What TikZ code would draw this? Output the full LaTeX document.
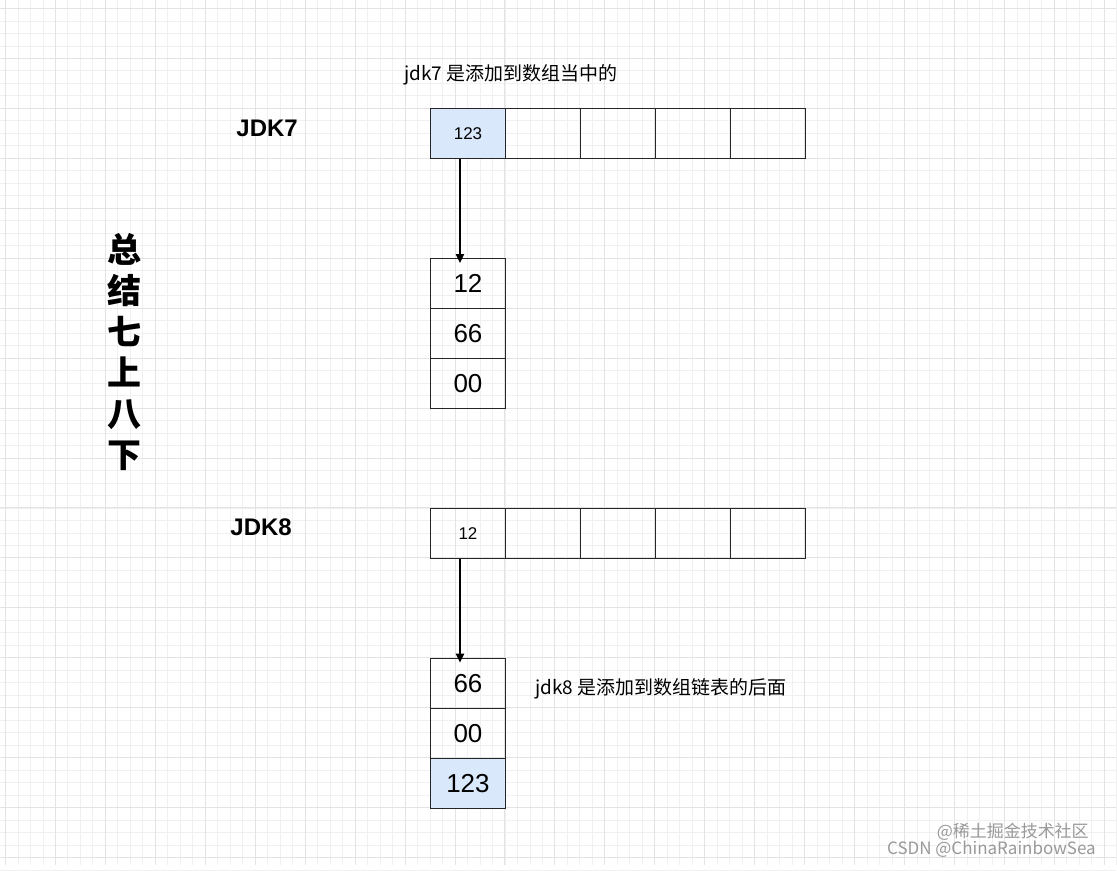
\documentclass[tikz,border=0pt]{standalone}
\usepackage{fontspec}
\setmainfont{Liberation Sans}
\newfontfamily\cjk{Noto Sans CJK SC}
\usetikzlibrary{arrows.meta}
\definecolor{hlb}{HTML}{DAE8FC}
\begin{document}
\begin{tikzpicture}[x=1pt,y=-1pt,
  cell/.style={draw=black!85,line width=1.2pt,minimum width=75pt,minimum height=50pt,inner sep=0pt,anchor=north west,font=\fontsize{17}{17}\selectfont},
  bcell/.style={cell,font=\fontsize{26}{26}\selectfont},
  hl/.style={fill=hlb},
  lbl/.style={font=\fontsize{24}{24}\selectfont\bfseries},
  note/.style={font=\cjk\fontsize{19}{19}\selectfont,anchor=west},
  arr/.style={-{Triangle[length=9pt,width=8pt]},line width=2pt}]
\fill[white] (0,0) rectangle (1117,866);
\foreach \i in {0,...,89}{\draw[black!6,line width=0.6pt] (5+12.5*\i,0)--(5+12.5*\i,866);}
\foreach \j in {0,...,69}{\draw[black!6,line width=0.6pt] (0,8+12.5*\j)--(1117,8+12.5*\j);}
\foreach \i in {0,...,22}{\draw[black!11,line width=0.7pt] (5+50*\i,0)--(5+50*\i,866);}
\foreach \j in {0,...,17}{\draw[black!11,line width=0.7pt] (0,8+50*\j)--(1117,8+50*\j);}
\useasboundingbox (0,0) rectangle (1117,866);
% JDK7
\node[note] (n7) at (401,75) {jdk7 是添加到数组当中的};
\node[lbl] (j7) at (267,128) {JDK7};
\node[cell,hl] (a0) at (430,108) {123};
\node[cell] (a1) at (505,108) {};
\node[cell] (a2) at (580,108) {};
\node[cell] (a3) at (655,108) {};
\node[cell] (a4) at (730,108) {};
\node[bcell] (s0) at (430,258) {12};
\node[bcell] (s1) at (430,308) {66};
\node[bcell] (s2) at (430,358) {00};
\draw[arr] ([xshift=-8pt]a0.south) -- ([xshift=-8pt,yshift=-5pt]s0.north);
% side text
\node[font=\cjk\fontsize{34}{41}\selectfont\bfseries,align=center] (side) at (124,352) {总\\结\\七\\上\\八\\下};
% JDK8
\node[lbl] (j8) at (261,527) {JDK8};
\node[cell] (b0) at (430,508) {12};
\node[cell] (b1) at (505,508) {};
\node[cell] (b2) at (580,508) {};
\node[cell] (b3) at (655,508) {};
\node[cell] (b4) at (730,508) {};
\node[bcell] (t0) at (430,658) {66};
\node[bcell] (t1) at (430,708) {00};
\node[bcell,hl] (t2) at (430,758) {123};
\draw[arr] ([xshift=-8pt]b0.south) -- ([xshift=-8pt,yshift=-5pt]t0.north);
\node[note] (n8) at (532,689) {jdk8 是添加到数组链表的后面};
% watermark
\node[font=\cjk\fontsize{17}{17}\selectfont,text=black!40,anchor=east] (w1) at (1093,832) {@稀土掘金技术社区};
\node[font=\cjk\fontsize{17}{17}\selectfont,text=black!40,anchor=east] (w2) at (1100,850) {CSDN @ChinaRainbowSea};
\end{tikzpicture}
\end{document}
